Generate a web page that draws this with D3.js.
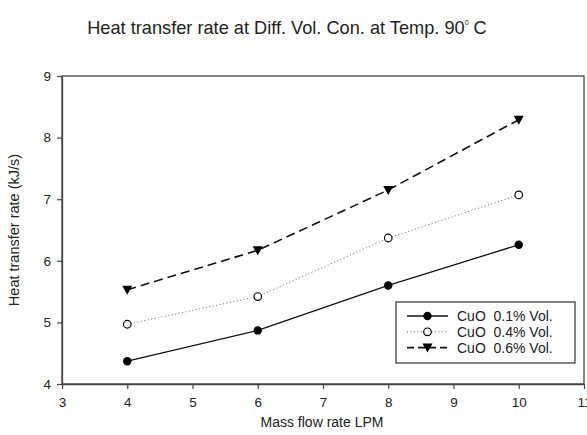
<!DOCTYPE html>
<html>
<head>
<meta charset="utf-8">
<script src="https://cdn.jsdelivr.net/npm/d3@7"></script>
<style>
  body { margin: 0; background: #fff; }
  text { font-family: Arial, "Liberation Sans", sans-serif; fill: #222; white-space: pre; }
</style>
</head>
<body>
<svg width="587" height="435"></svg>
<script>
var flowRates = [4, 6, 8, 10];
var cuo01 = [4.37, 4.87, 5.60, 6.26];
var cuo04 = [4.97, 5.42, 6.37, 7.07];
var cuo06 = [5.53, 6.17, 7.15, 8.29];
var seriesNames = ['CuO  0.1% Vol.', 'CuO  0.4% Vol.', 'CuO  0.6% Vol.'];
var xTicks = [3, 4, 5, 6, 7, 8, 9, 10, 11];
var yTicks = [4, 5, 6, 7, 8, 9];

var svg = d3.select('svg');

var plotLeft = 62, plotRight = 584, plotTop = 76, plotBottom = 384;

var x = d3.scaleLinear().domain([3, 11]).range([plotLeft, plotRight]);
var y = d3.scaleLinear().domain([4, 9]).range([plotBottom, plotTop]);

var series = [
  { name: seriesNames[0], values: cuo01, dash: null, width: 1.3, stroke: '#111', marker: 'dot' },
  { name: seriesNames[1], values: cuo04, dash: '1,2.5', width: 1, stroke: '#666', marker: 'ring' },
  { name: seriesNames[2], values: cuo06, dash: '9,5', width: 1.6, stroke: '#111', marker: 'tri' }
];

// title
var title = svg.append('text')
  .attr('x', 287)
  .attr('y', 34)
  .attr('text-anchor', 'middle')
  .style('font-size', '18.2px');
title.append('tspan').text('Heat transfer rate at Diff. Vol. Con. at Temp. 90');
title.append('tspan').attr('dy', -9).style('font-size', '7px').text('0');
title.append('tspan').attr('dy', 9).text(' C');

// frame
svg.append('rect')
  .attr('x', plotLeft)
  .attr('y', plotTop)
  .attr('width', plotRight - plotLeft)
  .attr('height', plotBottom - plotTop)
  .attr('fill', 'none')
  .attr('stroke', '#444')
  .attr('stroke-width', 1.3);

// axes
var xAxis = svg.append('g')
  .attr('transform', 'translate(0,' + plotBottom + ')')
  .call(d3.axisBottom(x).tickValues(xTicks).tickFormat(d3.format('d'))
    .tickSizeOuter(0).tickSizeInner(5).tickPadding(8));
var yAxis = svg.append('g')
  .attr('transform', 'translate(' + plotLeft + ',0)')
  .call(d3.axisLeft(y).tickValues(yTicks).tickFormat(d3.format('d'))
    .tickSizeOuter(0).tickSizeInner(5).tickPadding(6));

[xAxis, yAxis].forEach(function(a) {
  a.select('.domain').attr('stroke', '#444').attr('stroke-width', 1.3);
  a.selectAll('.tick line').attr('stroke', '#444').attr('stroke-width', 1.2);
  a.selectAll('.tick text').style('font-size', '13.5px').attr('fill', '#222');
});

// axis labels
svg.append('text')
  .attr('x', 322)
  .attr('y', 427)
  .attr('text-anchor', 'middle')
  .style('font-size', '14px')
  .text('Mass flow rate LPM');

svg.append('text')
  .attr('transform', 'translate(19,230) rotate(-90)')
  .attr('text-anchor', 'middle')
  .style('font-size', '14.5px')
  .text('Heat transfer rate (kJ/s)');

var line = d3.line()
  .x(function(d, i) { return x(flowRates[i]); })
  .y(function(d) { return y(d); });

function drawMarker(g, type, cx, cy) {
  if (type === 'dot') {
    g.append('circle').attr('cx', cx).attr('cy', cy).attr('r', 4.2).attr('fill', '#000');
  } else if (type === 'ring') {
    g.append('circle').attr('cx', cx).attr('cy', cy).attr('r', 3.8)
      .attr('fill', '#fff').attr('stroke', '#000').attr('stroke-width', 1.2);
  } else {
    g.append('path')
      .attr('d', 'M' + (cx - 5) + ',' + (cy - 4) + 'L' + (cx + 5) + ',' + (cy - 4) + 'L' + cx + ',' + (cy + 5) + 'Z')
      .attr('fill', '#000');
  }
}

series.forEach(function(s) {
  svg.append('path')
    .datum(s.values)
    .attr('d', line)
    .attr('fill', 'none')
    .attr('stroke', s.stroke)
    .attr('stroke-width', s.width)
    .attr('stroke-dasharray', s.dash);
  var g = svg.append('g');
  s.values.forEach(function(v, i) {
    drawMarker(g, s.marker, x(flowRates[i]), y(v));
  });
});

// legend
var legend = svg.append('g');
legend.append('rect')
  .attr('x', 396)
  .attr('y', 302)
  .attr('width', 179)
  .attr('height', 61)
  .attr('fill', '#fff')
  .attr('stroke', '#333')
  .attr('stroke-width', 1.2);

series.forEach(function(s, i) {
  var ly = 316 + i * 15.8;
  legend.append('line')
    .attr('x1', 407).attr('x2', 448)
    .attr('y1', ly).attr('y2', ly)
    .attr('stroke', s.stroke)
    .attr('stroke-width', s.width)
    .attr('stroke-dasharray', s.dash ? (s.marker === 'tri' ? '7,4' : s.dash) : null);
  drawMarker(legend, s.marker, 427.5, ly);
  legend.append('text')
    .attr('x', 457)
    .attr('y', ly + 5)
    .style('font-size', '14px')
    .text(s.name);
});
</script>
</body>
</html>
